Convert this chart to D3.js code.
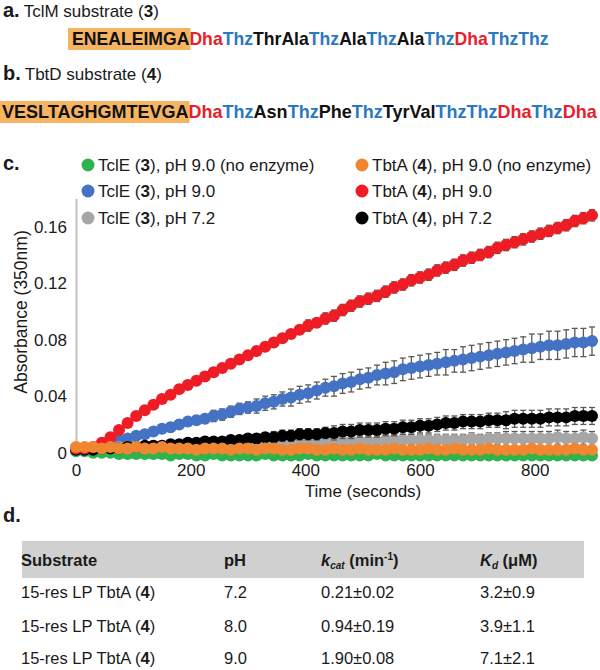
<!DOCTYPE html>
<html><head><meta charset="utf-8">
<script src="https://cdn.jsdelivr.net/npm/d3@7"></script>
<style>
body{margin:0;background:#fff}
svg{display:block}
text{font-family:"Liberation Sans",Arial,Helvetica,sans-serif}
</style>
</head><body>
<svg id="c" width="600" height="670"></svg>
<script>
// ---------- DATA ----------
const time = [
  0,15,30,45,60,75,90,105,120,135,
  150,165,180,195,210,225,240,255,270,285,
  300,315,330,345,360,375,390,405,420,435,
  450,465,480,495,510,525,540,555,570,585,
  600,615,630,645,660,675,690,705,720,735,
  750,765,780,795,810,825,840,855,870,885,
  900];

const tclE_noEnz = [
  0.001,0.001,0.000,0.000,0.000,-0.001,-0.001,-0.001,-0.001,-0.001,
  -0.001,-0.002,-0.001,-0.001,-0.002,-0.002,-0.001,-0.002,-0.002,-0.002,
  -0.002,-0.002,-0.001,-0.002,-0.002,-0.002,-0.002,-0.001,-0.002,-0.002,
  -0.002,-0.002,-0.002,-0.002,-0.002,-0.001,-0.002,-0.002,-0.002,-0.002,
  -0.002,-0.002,-0.002,-0.002,-0.002,-0.002,-0.002,-0.002,-0.002,-0.002,
  -0.002,-0.002,-0.002,-0.002,-0.002,-0.002,-0.002,-0.002,-0.002,-0.002,
  -0.002];
const tbtA_noEnz = [
  0.004,0.004,0.004,0.003,0.004,0.003,0.003,0.004,0.003,0.003,
  0.004,0.003,0.003,0.003,0.002,0.003,0.003,0.003,0.002,0.003,
  0.003,0.002,0.003,0.003,0.002,0.002,0.003,0.003,0.002,0.002,
  0.003,0.002,0.002,0.003,0.002,0.002,0.002,0.003,0.002,0.002,
  0.002,0.003,0.002,0.002,0.003,0.002,0.002,0.002,0.003,0.002,
  0.002,0.002,0.002,0.003,0.002,0.002,0.002,0.002,0.003,0.002,
  0.002];
const tclE_pH90 = [
  0.002,0.002,0.003,0.005,0.007,0.009,0.010,0.012,0.013,0.015,
  0.017,0.018,0.020,0.022,0.023,0.024,0.026,0.027,0.029,0.031,
  0.032,0.033,0.035,0.036,0.038,0.039,0.041,0.042,0.044,0.046,
  0.047,0.049,0.050,0.052,0.053,0.055,0.056,0.057,0.059,0.060,
  0.061,0.062,0.063,0.064,0.065,0.066,0.067,0.068,0.069,0.070,
  0.071,0.072,0.073,0.074,0.075,0.076,0.076,0.077,0.078,0.078,
  0.079];
const tclE_pH90_err = [
  0.000,0.001,0.001,0.001,0.001,0.001,0.002,0.002,0.002,0.002,
  0.002,0.003,0.003,0.003,0.003,0.003,0.004,0.004,0.004,0.004,
  0.004,0.005,0.005,0.005,0.005,0.006,0.006,0.006,0.006,0.006,
  0.007,0.007,0.007,0.007,0.007,0.007,0.008,0.008,0.008,0.008,
  0.008,0.008,0.008,0.009,0.008,0.009,0.009,0.009,0.009,0.009,
  0.009,0.009,0.009,0.010,0.009,0.010,0.010,0.010,0.010,0.010,
  0.010];
const tbtA_pH90 = [
  0.003,0.003,0.004,0.007,0.011,0.016,0.021,0.026,0.030,0.034,
  0.038,0.041,0.045,0.048,0.051,0.054,0.057,0.060,0.063,0.066,
  0.069,0.072,0.075,0.078,0.081,0.084,0.087,0.090,0.092,0.095,
  0.097,0.101,0.104,0.107,0.109,0.111,0.114,0.117,0.119,0.122,
  0.124,0.126,0.129,0.131,0.133,0.136,0.138,0.140,0.142,0.145,
  0.147,0.149,0.151,0.153,0.155,0.157,0.159,0.161,0.164,0.166,
  0.168];
const tbtA_pH90_err = [
  0.001,0.001,0.001,0.001,0.002,0.002,0.002,0.002,0.002,0.002,
  0.002,0.002,0.002,0.003,0.003,0.003,0.003,0.003,0.003,0.003,
  0.003,0.003,0.003,0.003,0.003,0.003,0.003,0.004,0.003,0.004,
  0.004,0.004,0.004,0.004,0.004,0.004,0.004,0.004,0.004,0.004,
  0.004,0.004,0.004,0.004,0.004,0.004,0.004,0.004,0.004,0.004,
  0.004,0.004,0.004,0.004,0.004,0.004,0.004,0.004,0.004,0.004,
  0.004];
const tclE_pH72 = [
  0.003,0.003,0.003,0.003,0.004,0.004,0.004,0.004,0.004,0.005,
  0.005,0.005,0.005,0.005,0.005,0.006,0.006,0.006,0.006,0.006,
  0.006,0.007,0.007,0.007,0.007,0.007,0.007,0.007,0.008,0.008,
  0.008,0.008,0.008,0.008,0.008,0.008,0.009,0.009,0.009,0.009,
  0.009,0.009,0.009,0.009,0.009,0.009,0.010,0.009,0.010,0.010,
  0.010,0.010,0.010,0.010,0.010,0.010,0.011,0.010,0.010,0.011,
  0.010];
const tclE_pH72_err = [
  0.001,0.001,0.001,0.001,0.001,0.001,0.001,0.001,0.001,0.001,
  0.002,0.002,0.002,0.002,0.002,0.002,0.002,0.002,0.002,0.002,
  0.003,0.003,0.003,0.003,0.003,0.003,0.003,0.003,0.003,0.003,
  0.004,0.004,0.004,0.004,0.004,0.004,0.004,0.004,0.004,0.004,
  0.004,0.004,0.004,0.004,0.004,0.004,0.004,0.004,0.004,0.004,
  0.005,0.005,0.005,0.005,0.005,0.005,0.005,0.005,0.005,0.005,
  0.005];
const tbtA_pH72 = [
  0.002,0.002,0.002,0.003,0.003,0.003,0.004,0.004,0.005,0.005,
  0.005,0.006,0.006,0.007,0.007,0.008,0.008,0.008,0.009,0.009,
  0.010,0.010,0.011,0.011,0.012,0.012,0.013,0.013,0.013,0.014,
  0.014,0.015,0.015,0.016,0.016,0.016,0.017,0.017,0.018,0.018,
  0.019,0.019,0.020,0.021,0.021,0.022,0.022,0.022,0.023,0.023,
  0.023,0.024,0.024,0.024,0.024,0.025,0.025,0.025,0.026,0.026,
  0.026];
const tbtA_pH72_err = [
  0.001,0.001,0.001,0.001,0.001,0.001,0.001,0.001,0.001,0.001,
  0.002,0.002,0.002,0.002,0.002,0.002,0.002,0.002,0.002,0.002,
  0.003,0.003,0.003,0.004,0.004,0.004,0.004,0.004,0.004,0.004,
  0.005,0.005,0.005,0.005,0.005,0.005,0.005,0.005,0.005,0.005,
  0.005,0.005,0.005,0.005,0.005,0.005,0.005,0.005,0.005,0.005,
  0.006,0.006,0.006,0.006,0.006,0.006,0.006,0.006,0.006,0.006,
  0.006];

const xTicks = [0, 200, 400, 600, 800];
const yTicks = [0, 0.04, 0.08, 0.12, 0.16];
const yTickLabels = ["0", "0.04", "0.08", "0.12", "0.16"];
const xTitle = "Time (seconds)";
const yTitle = "Absorbance (350nm)";

// legend entries: [before, bold number, after]
const legendLabels = [
  ["TclE (", "3", "), pH 9.0 (no enzyme)"],
  ["TbtA (", "4", "), pH 9.0 (no enzyme)"],
  ["TclE (", "3", "), pH 9.0"],
  ["TbtA (", "4", "), pH 9.0"],
  ["TclE (", "3", "), pH 7.2"],
  ["TbtA (", "4", "), pH 7.2"]
];

// sequences: [text, kind]  k = leader, r = Dha, b = Thz, n = other residue
const seqA = [["ENEALEIMGA","k"],["Dha","r"],["Thz","b"],["ThrAla","n"],["Thz","b"],["Ala","n"],["Thz","b"],["Ala","n"],["Thz","b"],["Dha","r"],["Thz","b"],["Thz","b"]];
const seqB = [["VESLTAGHGMTEVGA","k"],["Dha","r"],["Thz","b"],["Asn","n"],["Thz","b"],["Phe","n"],["Thz","b"],["TyrVal","n"],["Thz","b"],["Thz","b"],["Dha","r"],["Thz","b"],["Dha","r"]];

const tableSubstrate = ["15-res LP TbtA (", "4", ")"];
const tablePH = ["7.2", "8.0", "9.0"];
const tableKcat = ["0.21±0.02", "0.94±0.19", "1.90±0.08"];
const tableKd = ["3.2±0.9", "3.9±1.1", "7.1±2.1"];

// ---------- DRAW ----------
const svg = d3.select("#c");
const INK = "#1a1a1a";
const AX_FONT = 17;

// panel headers
function header(x, y, label, before, num, after) {
  const t = svg.append("text").attr("x", x).attr("y", y).attr("font-size", 17).attr("fill", INK);
  t.append("tspan").attr("font-size", 20).attr("font-weight", "bold").text(label);
  t.append("tspan").attr("dx", 4).text(before);
  t.append("tspan").attr("font-weight", "bold").text(num);
  t.append("tspan").text(after);
}
header(3, 17, "a.", "TclM substrate (", "3", ")");
header(3, 80, "b.", "TbtD substrate (", "4", ")");
svg.append("text").attr("x", 3).attr("y", 170).attr("font-size", 20).attr("font-weight", "bold").attr("fill", INK).text("c.");
svg.append("text").attr("x", 3).attr("y", 522).attr("font-size", 20).attr("font-weight", "bold").attr("fill", INK).text("d.");

// sequences
const seqColor = {k: "#111", r: "#e8202a", b: "#2a78c0", n: "#111"};
function drawSeq(seq, x0, x1, baseline, boxX, boxY, boxH) {
  const g = svg.append("g");
  const box = g.append("rect").attr("fill", "#f6b462");
  const t = g.append("text").attr("x", x0).attr("y", baseline).attr("font-weight", "bold").attr("font-size", 16);
  const spans = seq.map(([s, k]) => t.append("tspan").attr("fill", seqColor[k]).text(s));
  const w = t.node().getComputedTextLength();
  const fs = 16 * (x1 - x0) / w;
  t.attr("font-size", fs);
  const wPrefix = spans[0].node().getComputedTextLength();
  box.attr("x", boxX).attr("y", boxY).attr("width", x0 + wPrefix + 1 - boxX).attr("height", boxH);
}
drawSeq(seqA, 72, 549, 45, 68, 28, 22);
drawSeq(seqB, 2, 597, 118, 0, 101, 22);

// scales
const x = d3.scaleLinear().domain([0, 900]).range([76, 592]);
const y = d3.scaleLinear().domain([0, 0.18]).range([452.7, 198.4]);

// axes
const yAx = svg.append("g").attr("transform", "translate(76,0)")
  .call(d3.axisLeft(y).tickValues(yTicks).tickSize(0).tickSizeOuter(0).tickPadding(9)
    .tickFormat((d, i) => yTickLabels[i]));
yAx.select(".domain").attr("stroke", "#bfbfbf").attr("stroke-width", 2);
yAx.selectAll("text").attr("font-size", AX_FONT).attr("fill", INK).style("font-family", '"Liberation Sans",Arial,sans-serif');

const xAx = svg.append("g").attr("transform", `translate(0,${y(0)})`)
  .call(d3.axisBottom(x).tickValues(xTicks).tickSize(0).tickPadding(11));
xAx.select(".domain").remove();
xAx.selectAll("text").attr("font-size", AX_FONT).attr("fill", INK).style("font-family", '"Liberation Sans",Arial,sans-serif');

svg.append("text").attr("x", 363).attr("y", 497).attr("text-anchor", "middle").attr("font-size", AX_FONT).attr("fill", INK).text(xTitle);
svg.append("text").attr("transform", "translate(27,312) rotate(-90)").attr("text-anchor", "middle").attr("font-size", 17.5).attr("fill", INK).text(yTitle);

// series
const series = [
  {v: tclE_noEnz, e: null, c: "#2fb34d"},
  {v: tclE_pH90, e: tclE_pH90_err, c: "#4472c4"},
  {v: tclE_pH72, e: tclE_pH72_err, c: "#a6a6a6"},
  {v: tbtA_pH72, e: tbtA_pH72_err, c: "#000000"},
  {v: tbtA_pH90, e: tbtA_pH90_err, c: "#ee1c25"},
  {v: tbtA_noEnz, e: null, c: "#f08632"}
];
const plot = svg.append("g");
series.forEach(s => {
  const g = plot.append("g");
  if (s.e) {
    const eb = g.append("g").attr("stroke", "#595959").attr("stroke-width", 1.3).attr("fill", "none");
    time.forEach((t, i) => {
      const cx = x(t), y1 = y(s.v[i] - s.e[i]), y2 = y(s.v[i] + s.e[i]);
      eb.append("line").attr("x1", cx).attr("x2", cx).attr("y1", y1).attr("y2", y2);
      eb.append("line").attr("x1", cx - 3).attr("x2", cx + 3).attr("y1", y1).attr("y2", y1);
      eb.append("line").attr("x1", cx - 3).attr("x2", cx + 3).attr("y1", y2).attr("y2", y2);
    });
  }
  g.selectAll("circle").data(time).join("circle")
    .attr("cx", d => x(d)).attr("cy", (d, i) => y(s.v[i])).attr("r", 6).attr("fill", s.c);
});

// legend
const legendColors = ["#2fb34d", "#f08632", "#4472c4", "#ee1c25", "#a6a6a6", "#000000"];
const legX = [88, 362], legY = [165, 191, 218];
legendLabels.forEach((lab, i) => {
  const cx = legX[i % 2], cy = legY[Math.floor(i / 2)];
  svg.append("circle").attr("cx", cx).attr("cy", cy).attr("r", 6.5).attr("fill", legendColors[i]);
  const t = svg.append("text").attr("x", cx + 10).attr("y", cy + 6).attr("font-size", 17).attr("fill", INK);
  t.append("tspan").text(lab[0]);
  t.append("tspan").attr("font-weight", "bold").text(lab[1]);
  t.append("tspan").text(lab[2]);
});

// table
const T_FONT = 16.5;
const colX = [21, 224, 321, 480];
svg.append("rect").attr("x", 22).attr("y", 541).attr("width", 562).attr("height", 37).attr("fill", "#d0d0d0");
const hy = 566;
svg.append("text").attr("x", colX[0]).attr("y", hy).attr("font-size", T_FONT).attr("font-weight", "bold").attr("fill", INK).text("Substrate");
svg.append("text").attr("x", colX[1]).attr("y", hy).attr("font-size", T_FONT).attr("font-weight", "bold").attr("fill", INK).text("pH");
const kc = svg.append("text").attr("x", colX[2]).attr("y", hy).attr("font-size", T_FONT).attr("font-weight", "bold").attr("fill", INK);
kc.append("tspan").attr("font-style", "italic").text("k");
kc.append("tspan").attr("font-style", "italic").attr("font-size", 10).attr("dy", 3).text("cat");
kc.append("tspan").attr("dy", -3).text(" (min");
kc.append("tspan").attr("font-size", 10).attr("dy", -6).text("-1");
kc.append("tspan").attr("dy", 6).text(")");
const kd = svg.append("text").attr("x", colX[3]).attr("y", hy).attr("font-size", T_FONT).attr("font-weight", "bold").attr("fill", INK);
kd.append("tspan").attr("font-style", "italic").text("K");
kd.append("tspan").attr("font-style", "italic").attr("font-size", 10).attr("dy", 3).text("d");
kd.append("tspan").attr("dy", -3).text(" (μM)");

const rowY = [598, 632, 664];
tablePH.forEach((ph, i) => {
  const t = svg.append("text").attr("x", colX[0]).attr("y", rowY[i]).attr("font-size", T_FONT).attr("fill", INK);
  t.append("tspan").text(tableSubstrate[0]);
  t.append("tspan").attr("font-weight", "bold").text(tableSubstrate[1]);
  t.append("tspan").text(tableSubstrate[2]);
  svg.append("text").attr("x", colX[1]).attr("y", rowY[i]).attr("font-size", T_FONT).attr("fill", INK).text(ph);
  svg.append("text").attr("x", colX[2]).attr("y", rowY[i]).attr("font-size", T_FONT).attr("fill", INK).text(tableKcat[i]);
  svg.append("text").attr("x", colX[3]).attr("y", rowY[i]).attr("font-size", T_FONT).attr("fill", INK).text(tableKd[i]);
});
</script>
</body></html>
